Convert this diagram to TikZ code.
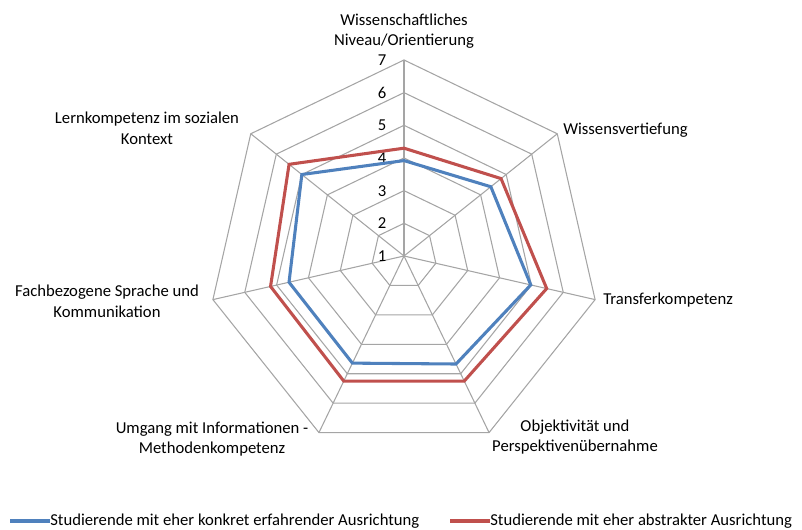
\documentclass[tikz,border=0pt]{standalone}
\usepackage{fontspec}
\setmainfont{Carlito}
\usetikzlibrary{positioning}
\definecolor{gridgray}{RGB}{165,165,165}
\definecolor{seriesblue}{RGB}{79,129,189}
\definecolor{seriesred}{RGB}{192,80,77}
\tikzset{grid/.style = {gridgray, line width=0.8pt}}
\tikzset{series/.style = {line width=2.3pt}}
\tikzset{lbl/.style = {align=center, inner sep=0, font=\fontsize{12.5}{15.5}\selectfont}}
\newcommand{\unitr}{32.67}

\begin{document}
\begin{tikzpicture}[x=0.75pt, y=0.75pt]
      \useasboundingbox (0,0) rectangle (802,530);
      \begin{scope}[shift={(404,274)}]
        % Draw rings and spokes
        \foreach \k in {1,...,6} {
          \draw[grid] (90:\k*\unitr)
            \foreach \i in {1,...,6} { -- ({90-\i*360/7}:\k*\unitr) } -- cycle;
        }
        \foreach \i in {0,...,6} {
          \coordinate (ax\i) at ({90-\i*360/7}:6*\unitr);
          \draw[grid] (0,0) -- (ax\i);
        }
        % Scale
        \foreach \k in {1,...,7}
          \node[lbl] (s\k) at (-22,{(\k-1)*\unitr}) {\k};
        % Data
        \draw[series, seriesred] (90:{3.3*\unitr})
          \foreach \v [count=\i] in {4.8,5.48,5.25,5.25,5.19,5.5}
            { -- ({90-\i*360/7}:{(\v-1)*\unitr}) } -- cycle;
        \draw[series, seriesblue] (90:{2.92*\unitr})
          \foreach \v [count=\i] in {4.4,4.98,4.67,4.64,4.61,5.0}
            { -- ({90-\i*360/7}:{(\v-1)*\unitr}) } -- cycle;
      \end{scope}

      % Axis labels
      \node[lbl] (n0) at (404,499) {Wissenschaftliches\\Niveau/Orientierung};
      \node[lbl, anchor=west] (n1) at (563,400) {Wissensvertiefung};
      \node[lbl, anchor=west] (n2) at (603,230) {Transferkompetenz};
      \node[lbl] (n3) at (575,93) {Objektivität und\\Perspektivenübernahme};
      \node[lbl] (n4) at (212,91) {Umgang mit Informationen -\\Methodenkompetenz};
      \node[lbl] (n5) at (107,229) {Fachbezogene Sprache und\\Kommunikation};
      \node[lbl] (n6) at (147,402) {Lernkompetenz im sozialen\\Kontext};

      % Legend
      \coordinate (lb) at (10,9);
      \coordinate (lr) at (450,9);
      \node[lbl, anchor=west] (tb) at (50,9) {Studierende mit eher konkret erfahrender Ausrichtung};
      \node[lbl, anchor=west] (tr) at (490,9) {Studierende mit eher abstrakter Ausrichtung};
      \draw[series, seriesblue] (lb) -- (tb.west);
      \draw[series, seriesred] (lr) -- (tr.west);
    \end{tikzpicture}
\end{document}
